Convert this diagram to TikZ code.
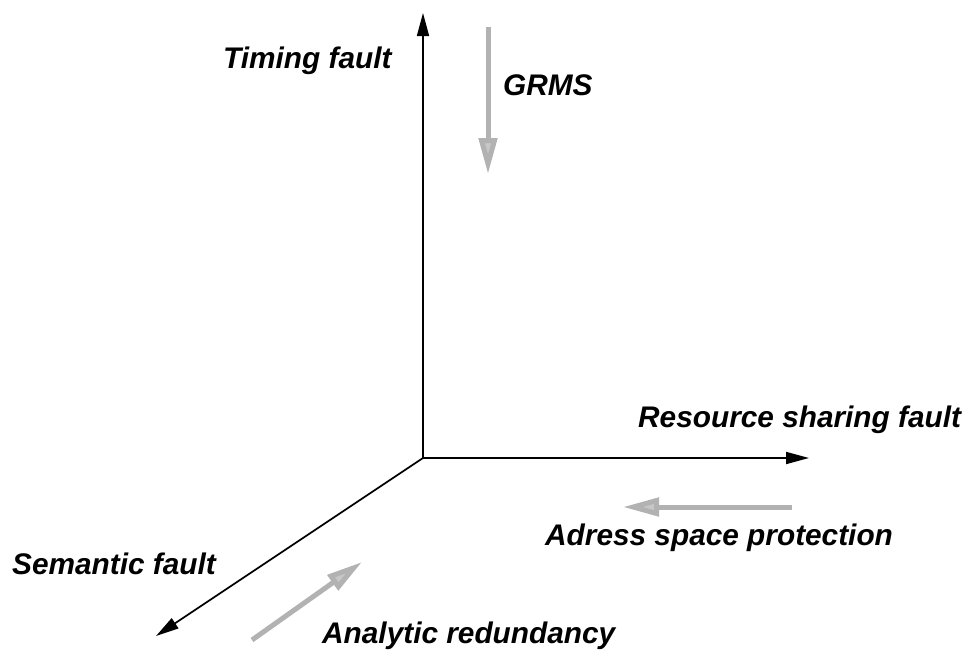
\documentclass[tikz,border=0pt]{standalone}
\usepackage{fontspec}
\setmainfont{Liberation Sans}
\usetikzlibrary{arrows.meta}
\tikzset{
  axis/.style={line width=1.7pt, black, -{Triangle[length=23pt,width=12pt]}},
  grayarrow/.style={line width=5pt, draw=black!30, -{Triangle[length=36pt,width=18pt,fill=black!22]}},
  lbl/.style={anchor=base west, inner sep=0pt, font=\fontsize{29.8}{36}\selectfont\bfseries\itshape}
}
\begin{document}
\begin{tikzpicture}[x=1pt,y=-1pt]
\useasboundingbox (0,0) rectangle (967,649);
\coordinate (O) at (423,458);
\coordinate (T) at (423,13);
\coordinate (R) at (809,458);
\coordinate (S) at (156,636);
\draw[axis] (O) -- (T);
\draw[axis] (O) -- (R);
\draw[axis] (O) -- (S);
\coordinate (g1) at (488,27);
\coordinate (g2) at (488,174);
\draw[grayarrow] (g1) -- (g2);
\coordinate (a1) at (792,507);
\coordinate (a2) at (623,507);
\draw[grayarrow] (a1) -- (a2);
\coordinate (n1) at (252,640);
\coordinate (n2) at (362,562);
\draw[grayarrow] (n1) -- (n2);
\node[lbl] (timing) at (223,68) {Timing fault};
\node[lbl] (grms) at (503,95) {GRMS};
\node[lbl] (res) at (638,427) {Resource sharing fault};
\node[lbl] (adr) at (545,545) {Adress space protection};
\node[lbl] (sem) at (12,574) {Semantic fault};
\node[lbl] (ana) at (322,643) {Analytic redundancy};
\end{tikzpicture}
\end{document}
